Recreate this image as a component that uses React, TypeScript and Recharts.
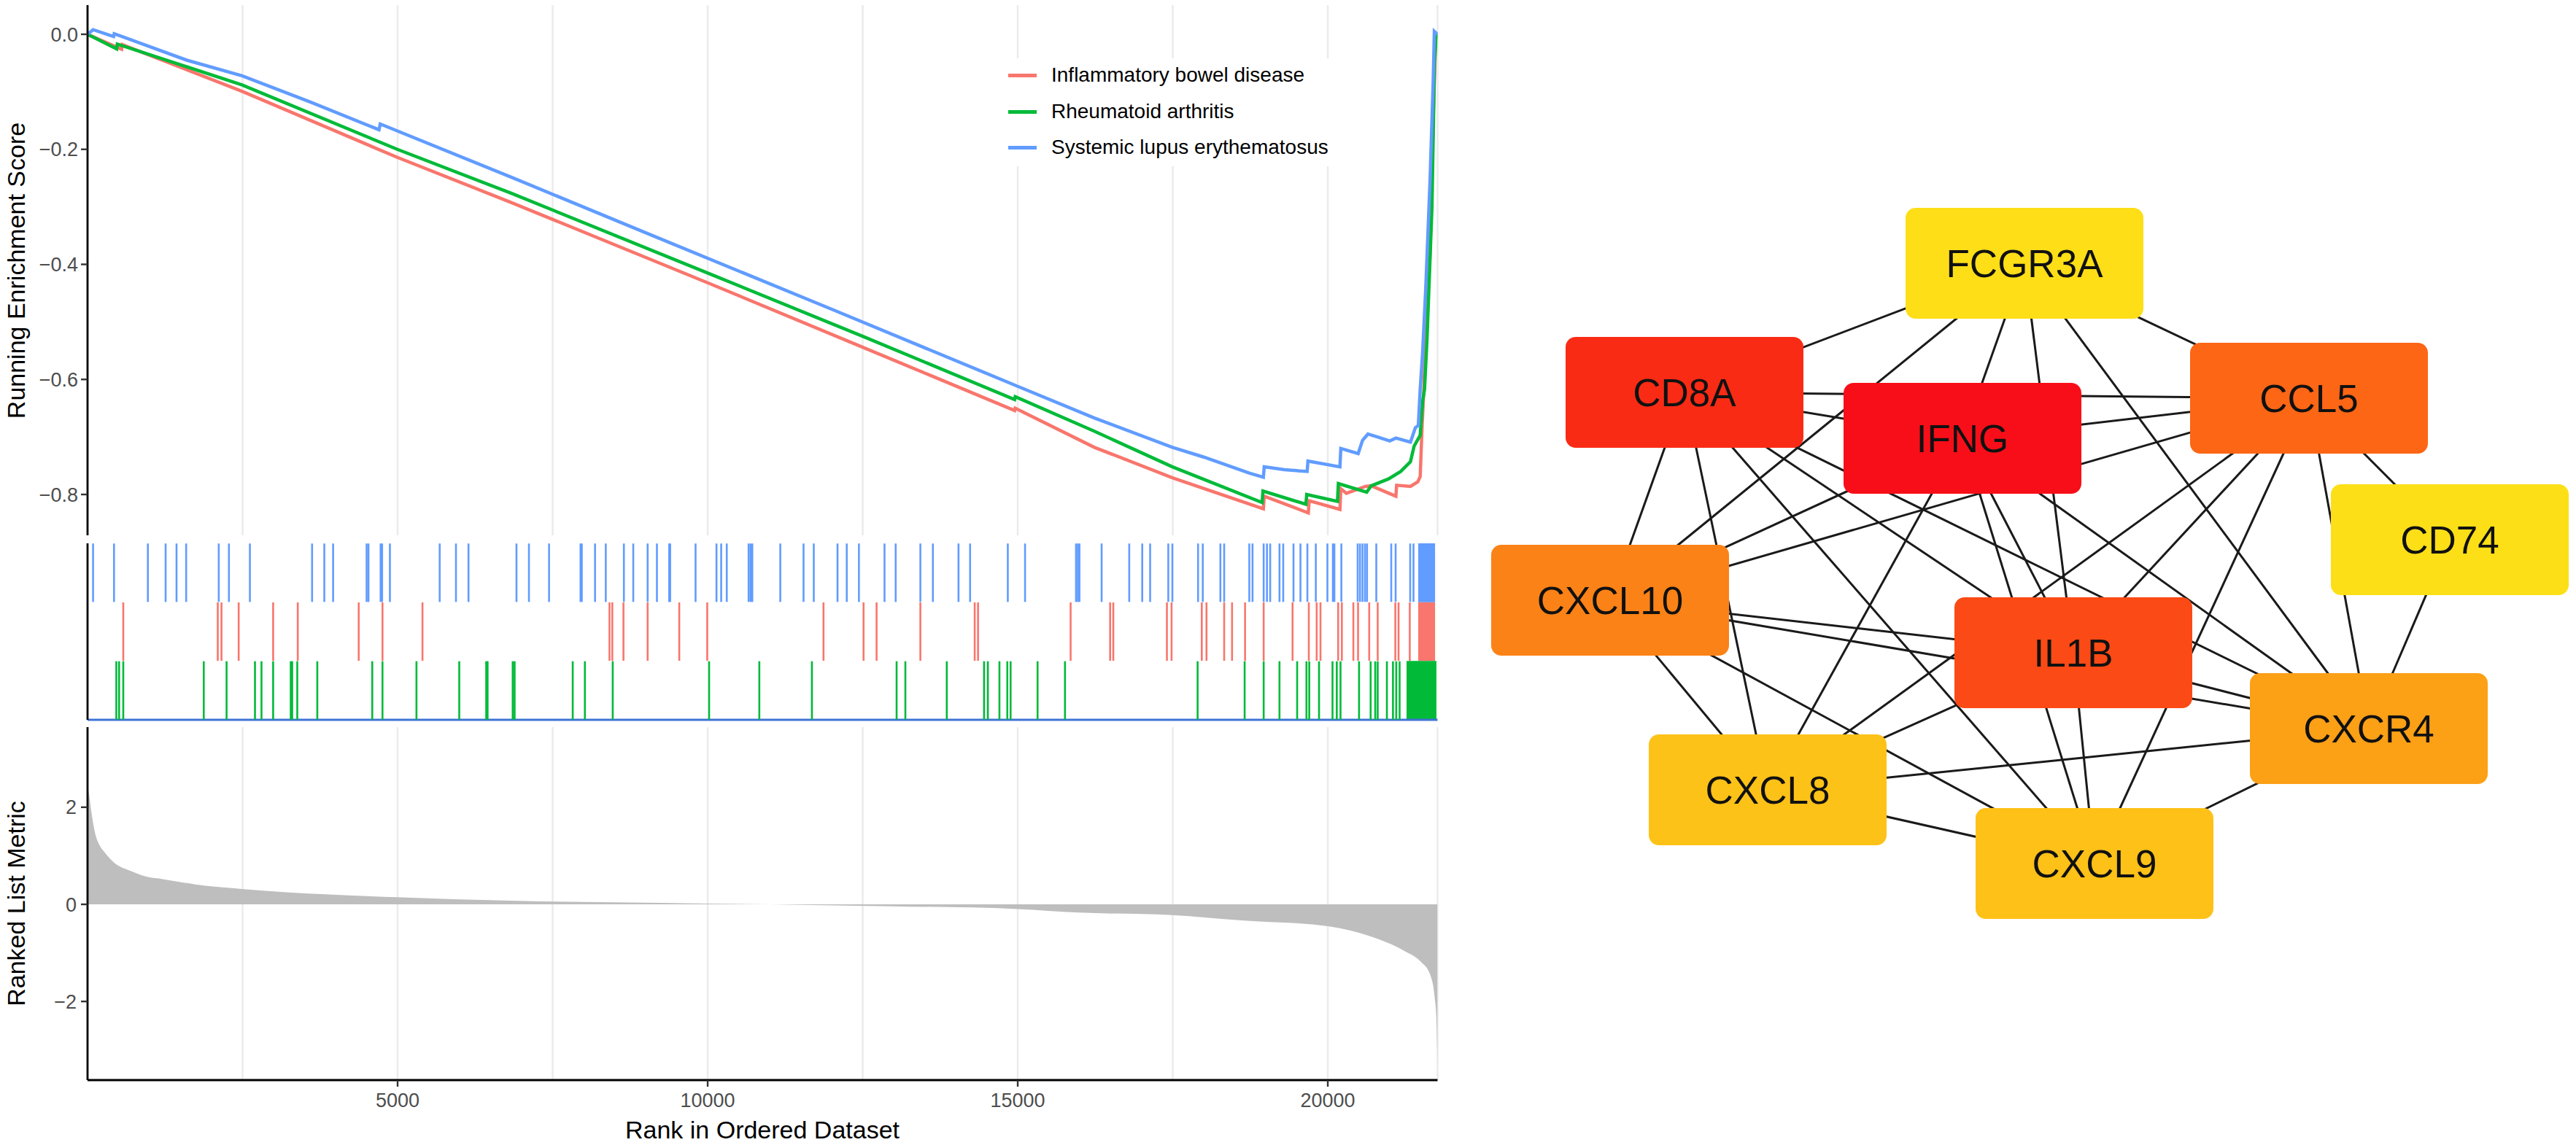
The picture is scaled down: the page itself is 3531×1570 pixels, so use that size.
import React from "react";
import {
  LineChart,
  Line,
  ComposedChart,
  ScatterChart,
  Scatter,
  Area,
  XAxis,
  YAxis,
  CartesianGrid,
  ReferenceArea,
} from "recharts";

const FONT = '"Liberation Sans", Arial, Helvetica, sans-serif';
const RANK_MAX = 21770;

// ---- GSEA data ----
const seriesNames = [
  "Inflammatory bowel disease",
  "Rheumatoid arthritis",
  "Systemic lupus erythematosus",
];
const seriesColors = ["#F8766D", "#00BA38", "#619CFF"];

const ibdRank = [0, 550, 560, 2490, 4995, 6823, 10000, 12500, 14950, 14960, 16235, 17494, 18961, 18975, 19686, 19700, 20196, 20210, 20300, 20608, 20700, 21098, 21110, 21333, 21451, 21490, 21521, 21549, 21580, 21650, 21700, 21740, 21770];
const ibdES = [0, -0.026, -0.018, -0.099, -0.214, -0.292, -0.432, -0.544, -0.654, -0.65, -0.718, -0.771, -0.825, -0.803, -0.832, -0.811, -0.826, -0.79, -0.798, -0.786, -0.785, -0.803, -0.784, -0.786, -0.778, -0.769, -0.68, -0.617, -0.511, -0.38, -0.15, 0, 0];

const raRank = [0, 470, 480, 2490, 4995, 6823, 10000, 12500, 14950, 14960, 16235, 17494, 18941, 18955, 19647, 19660, 20157, 20170, 20627, 20700, 20980, 21176, 21333, 21392, 21490, 21529, 21560, 21600, 21680, 21720, 21750, 21770];
const raES = [0, -0.0255, -0.017, -0.088, -0.2, -0.276, -0.415, -0.525, -0.635, -0.63, -0.69, -0.752, -0.814, -0.794, -0.817, -0.8, -0.812, -0.781, -0.796, -0.785, -0.773, -0.76, -0.743, -0.716, -0.697, -0.638, -0.617, -0.53, -0.3, -0.05, 0, 0];

const sleRank = [0, 90, 420, 430, 1600, 2490, 3600, 4700, 4720, 6823, 9000, 12000, 15000, 16235, 17494, 18000, 18741, 18961, 18975, 19300, 19667, 19680, 20196, 20210, 20490, 20560, 20647, 20800, 21000, 21098, 21333, 21412, 21460, 21490, 21529, 21580, 21650, 21700, 21718, 21770];
const sleES = [0, 0.008, -0.004, 0.001, -0.045, -0.072, -0.118, -0.166, -0.156, -0.248, -0.345, -0.478, -0.612, -0.667, -0.718, -0.735, -0.763, -0.77, -0.752, -0.757, -0.76, -0.742, -0.752, -0.72, -0.729, -0.706, -0.695, -0.7, -0.707, -0.702, -0.709, -0.684, -0.68, -0.617, -0.553, -0.44, -0.25, -0.08, 0.005, 0];

const ibdHits = [576, 2100, 2160, 2437, 2993, 3390, 4373, 4756, 5401, 8417, 8462, 8642, 9032, 9542, 9993, 11868, 12514, 12724, 13430, 14306, 14360, 15853, 16490, 16541, 17406, 17481, 17968, 18044, 18329, 18456, 18666, 18966, 19432, 19694, 19821, 19882, 20167, 20227, 20412, 20488, 20668, 20805, 21089, 21141, 21322];
const raHits = [464, 509, 576, 1874, 2242, 2700, 2805, 2993, 3277, 3300, 3382, 3705, 4591, 4756, 5304, 5994, 6429, 6451, 6856, 6887, 7824, 8020, 8469, 10023, 10833, 11681, 13047, 13188, 13856, 14457, 14518, 14705, 14832, 14885, 15320, 15762, 17901, 18659, 18966, 19221, 19506, 19656, 19701, 19859, 20076, 20145, 20205, 20504, 20691, 20765, 20805, 20953, 21051, 21104, 21158];
const sleHits = [89, 427, 973, 1259, 1435, 1590, 2116, 2280, 2618, 3621, 3818, 3960, 4500, 4530, 4726, 4750, 4876, 5679, 5941, 6143, 6917, 7118, 7442, 7950, 7970, 8184, 8357, 8649, 8800, 9032, 9182, 9380, 9395, 9805, 10142, 10218, 10308, 10660, 10690, 10720, 11171, 11546, 11711, 12094, 12243, 12439, 12852, 13032, 13430, 13632, 14045, 14232, 14840, 15118, 15940, 15970, 15995, 16353, 16798, 17008, 17135, 17428, 17494, 17908, 17984, 18268, 18329, 18734, 18786, 18966, 19019, 19071, 19221, 19281, 19447, 19559, 19671, 19807, 19994, 20082, 20106, 20219, 20482, 20520, 20560, 20600, 20632, 20782, 21023, 21094, 21329, 21382];

// dense runs of hits at the end of the ranking
const blockStart = [21458, 21270, 21458];
const blockEnd = [21730, 21752, 21730];

const metricRank = [0, 20, 59, 111, 200, 269, 427, 689, 952, 1214, 1740, 2490, 3840, 4995, 6823, 8500, 10000, 11500, 13000, 14995, 15984, 17491, 18609, 20000, 20711, 21235, 21498, 21655, 21734, 21755, 21764, 21770];
const metricValue = [2.4, 2.3, 1.93, 1.53, 1.2, 1.08, 0.86, 0.69, 0.57, 0.52, 0.41, 0.317, 0.205, 0.148, 0.075, 0.04, 0.015, -0.01, -0.04, -0.096, -0.17, -0.22, -0.33, -0.45, -0.67, -0.96, -1.18, -1.46, -2.03, -2.5, -3.0, -3.3];

const gridRanks = [2500, 5000, 7500, 10000, 12500, 15000, 17500, 20000];
const esTicks = [0, -0.2, -0.4, -0.6, -0.8];
const metricTicks = [-2, 0, 2];

// ---- network data ----
const nodeNames = ["FCGR3A", "CD8A", "IFNG", "CCL5", "CD74", "CXCL10", "IL1B", "CXCR4", "CXCL8", "CXCL9"];
const nodeX = [775, 309, 690, 1165, 1358, 207, 842, 1247, 423, 871];
const nodeY = [361, 538, 601, 546, 740, 823, 895, 999, 1083, 1184];
const edges: [string, string][] = [
  ["FCGR3A", "CD8A"], ["FCGR3A", "CXCL10"], ["FCGR3A", "IFNG"], ["FCGR3A", "IL1B"], ["FCGR3A", "CXCR4"], ["FCGR3A", "CCL5"],
  ["CD8A", "IFNG"], ["CD8A", "CCL5"], ["CD8A", "CXCL10"], ["CD8A", "CXCL8"], ["CD8A", "CXCL9"], ["CD8A", "IL1B"], ["CD8A", "CXCR4"],
  ["IFNG", "CCL5"], ["IFNG", "CXCL10"], ["IFNG", "CXCL8"], ["IFNG", "IL1B"], ["IFNG", "CXCR4"], ["IFNG", "CXCL9"],
  ["CCL5", "CXCL10"], ["CCL5", "CD74"], ["CCL5", "CXCR4"], ["CCL5", "IL1B"], ["CCL5", "CXCL9"], ["CCL5", "CXCL8"],
  ["CD74", "CXCR4"],
  ["CXCL10", "IL1B"], ["CXCL10", "CXCR4"], ["CXCL10", "CXCL8"], ["CXCL10", "CXCL9"],
  ["IL1B", "CXCR4"], ["IL1B", "CXCL8"], ["IL1B", "CXCL9"],
  ["CXCR4", "CXCL8"], ["CXCR4", "CXCL9"],
  ["CXCL8", "CXCL9"],
];

const nodeColors: Record<string, string> = {
  FCGR3A: "#FDDE17",
  CD8A: "#F92B15",
  IFNG: "#F80E18",
  CCL5: "#FC6615",
  CD74: "#FDDF17",
  CXCL10: "#FB8217",
  IL1B: "#FB4A15",
  CXCR4: "#FCA016",
  CXCL8: "#FDC217",
  CXCL9: "#FDC118",
};

const esSeries = [
  { name: seriesNames[0], color: seriesColors[0], points: ibdRank.map((r, i) => ({ rank: r, es: ibdES[i] })) },
  { name: seriesNames[1], color: seriesColors[1], points: raRank.map((r, i) => ({ rank: r, es: raES[i] })) },
  { name: seriesNames[2], color: seriesColors[2], points: sleRank.map((r, i) => ({ rank: r, es: sleES[i] })) },
];

// rows of the rug panel: SLE on top, IBD middle, RA bottom
const rugRows = [
  { hits: ibdHits, row: 1.5, color: seriesColors[0], block: 0 },
  { hits: raHits, row: 0.5, color: seriesColors[1], block: 1 },
  { hits: sleHits, row: 2.5, color: seriesColors[2], block: 2 },
];

const metricData = metricRank.map((r, i) => ({ rank: r, metric: metricValue[i] }));

const nodes = nodeNames.map((n, i) => ({ name: n, x: nodeX[i], y: nodeY[i] }));
const nodeByName = (n: string) => nodes[nodeNames.indexOf(n)];

const minusFmt = (v: number, digits: number) =>
  v === 0 ? (0).toFixed(digits) : v.toFixed(digits).replace("-", "\u2212");

const axisLine = { stroke: "#000", strokeWidth: 2.8 };
const tickLineStyle = { stroke: "#333", strokeWidth: 2.4 };
const tickText = { fill: "#4D4D4D", fontSize: 27, fontFamily: FONT };

const rugShape = (color: string) => (props: any) => (
  <line x1={props.cx} x2={props.cx} y1={props.cy - 40} y2={props.cy + 40} stroke={color} strokeWidth={2.6} />
);

const noShape = () => <g />;
const NoTick = () => <g />;

const RankTick = (props: any) => {
  const { x, y, payload } = props;
  if (payload.value % 5000 !== 0) return <g />;
  return (
    <g>
      <line x1={x} x2={x} y1={y - 18} y2={y - 9} stroke="#333" strokeWidth={2.4} />
      <text x={x} y={y} dy="0.71em" textAnchor="middle" fill="#4D4D4D" fontSize={27} fontFamily={FONT}>
        {payload.value}
      </text>
    </g>
  );
};

const NodeBox = (props: any) => {
  const { cx, cy, payload } = props;
  return (
    <g>
      <rect x={cx - 163} y={cy - 76} width={326} height={152} rx={14} ry={14} fill={nodeColors[payload.name]} />
      <text x={cx} y={cy} dy="0.36em" textAnchor="middle" fontSize={53} fontFamily={FONT} fill="#111">
        {payload.name}
      </text>
    </g>
  );
};

const titleStyle: React.CSSProperties = {
  position: "absolute",
  fontFamily: FONT,
  fontSize: 34,
  color: "#000",
  whiteSpace: "nowrap",
  lineHeight: 1,
};

export default function App() {
  return (
    <div style={{ position: "relative", width: 3531, height: 1570, background: "#fff", overflow: "hidden" }}>
      <style>{"body{margin:0}"}</style>

      {/* running enrichment score */}
      <div style={{ position: "absolute", left: 0, top: 0 }}>
        <LineChart width={1975} height={735} margin={{ top: 7, right: 4.5, bottom: 0, left: 10 }}>
          <CartesianGrid horizontal={false} stroke="#EBEBEB" strokeWidth={2.5} />
          <XAxis
            type="number"
            dataKey="rank"
            domain={[0, RANK_MAX]}
            ticks={gridRanks}
            allowDataOverflow
            height={1}
            tick={<NoTick />}
            tickLine={false}
            axisLine={false}
          />
          <YAxis
            type="number"
            domain={[-0.871, 0.0507]}
            ticks={esTicks}
            allowDataOverflow
            width={110}
            tickFormatter={(v: number) => minusFmt(v, 1)}
            axisLine={axisLine}
            tickLine={tickLineStyle}
            tickSize={9}
            tickMargin={4}
            tick={tickText}
          />
          {esSeries.map((s) => (
            <Line
              key={s.name}
              data={s.points}
              dataKey="es"
              name={s.name}
              type="linear"
              stroke={s.color}
              strokeWidth={4.5}
              dot={false}
              activeDot={false}
              isAnimationActive={false}
            />
          ))}
        </LineChart>
      </div>

      {/* legend */}
      <div
        style={{
          position: "absolute",
          left: 1372,
          top: 80,
          width: 470,
          height: 148,
          background: "#fff",
          fontFamily: FONT,
          fontSize: 28,
          color: "#000",
        }}
      >
        {esSeries.map((s, i) => (
          <div key={s.name} style={{ position: "absolute", left: 0, top: 23 + i * 49.5 - 25, height: 50, width: 470 }}>
            <div style={{ position: "absolute", left: 10, top: 23, width: 39, height: 5, background: s.color }} />
            <div style={{ position: "absolute", left: 69, top: 0, lineHeight: "50px" }}>{s.name}</div>
          </div>
        ))}
      </div>

      {/* hit rug */}
      <div style={{ position: "absolute", left: 0, top: 740 }}>
        <ComposedChart width={1975} height={250} margin={{ top: 5, right: 4.5, bottom: 2, left: 10 }}>
          <XAxis
            type="number"
            dataKey="rank"
            domain={[0, RANK_MAX]}
            ticks={gridRanks}
            allowDataOverflow
            height={1}
            tick={<NoTick />}
            tickLine={false}
            axisLine={{ stroke: "#3E73D6", strokeWidth: 3.2 }}
          />
          <YAxis
            type="number"
            dataKey="row"
            domain={[0, 3]}
            width={110}
            tick={false}
            tickLine={false}
            axisLine={axisLine}
          />
          {rugRows.map((r) => (
            <ReferenceArea
              key={"blk" + r.color}
              x1={blockStart[r.block]}
              x2={blockEnd[r.block]}
              y1={r.row - 0.5}
              y2={r.row + 0.5}
              fill={r.color}
              fillOpacity={1}
              stroke="none"
            />
          ))}
          {rugRows.map((r) => (
            <Scatter
              key={"rug" + r.color}
              data={r.hits.map((h) => ({ rank: h, row: r.row }))}
              shape={rugShape(r.color)}
              isAnimationActive={false}
            />
          ))}
        </ComposedChart>
      </div>

      {/* ranked list metric */}
      <div style={{ position: "absolute", left: 0, top: 990 }}>
        <ComposedChart width={1975} height={551} data={metricData} margin={{ top: 7, right: 4.5, bottom: 0, left: 10 }}>
          <CartesianGrid horizontal={false} stroke="#EBEBEB" strokeWidth={2.5} />
          <XAxis
            type="number"
            dataKey="rank"
            domain={[0, RANK_MAX]}
            ticks={gridRanks}
            allowDataOverflow
            height={60}
            tickLine={false}
            tickSize={9}
            tickMargin={9}
            axisLine={axisLine}
            tick={<RankTick />}
          />
          <YAxis
            type="number"
            domain={[-3.62, 3.65]}
            ticks={metricTicks}
            allowDataOverflow
            width={110}
            tickFormatter={(v: number) => minusFmt(v, 0)}
            axisLine={axisLine}
            tickLine={tickLineStyle}
            tickSize={9}
            tickMargin={6}
            tick={tickText}
          />
          <Area
            type="monotone"
            dataKey="metric"
            baseValue={0}
            stroke="none"
            fill="#BEBEBE"
            fillOpacity={1}
            dot={false}
            activeDot={false}
            isAnimationActive={false}
          />
        </ComposedChart>
      </div>

      {/* axis titles */}
      <div style={{ ...titleStyle, left: 22, top: 371, transform: "translate(-50%, -50%) rotate(-90deg)" }}>
        Running Enrichment Score
      </div>
      <div style={{ ...titleStyle, left: 22, top: 1239, transform: "translate(-50%, -50%) rotate(-90deg)" }}>
        Ranked List Metric
      </div>
      <div style={{ ...titleStyle, left: 1045, top: 1549, transform: "translate(-50%, -50%)" }}>
        Rank in Ordered Dataset
      </div>

      {/* PPI network */}
      <div style={{ position: "absolute", left: 2000, top: 0 }}>
        <ScatterChart width={1531} height={1570} margin={{ top: 0, right: 0, bottom: 0, left: 0 }}>
          <XAxis type="number" dataKey="x" domain={[0, 1531]} hide />
          <YAxis type="number" dataKey="y" domain={[0, 1570]} reversed hide />
          {edges.map(([a, b]) => (
            <Scatter
              key={a + "-" + b}
              data={[nodeByName(a), nodeByName(b)]}
              line={{ stroke: "#1A1A1A", strokeWidth: 3 }}
              shape={noShape}
              isAnimationActive={false}
            />
          ))}
          <Scatter data={nodes} shape={NodeBox} isAnimationActive={false} />
        </ScatterChart>
      </div>
    </div>
  );
}
